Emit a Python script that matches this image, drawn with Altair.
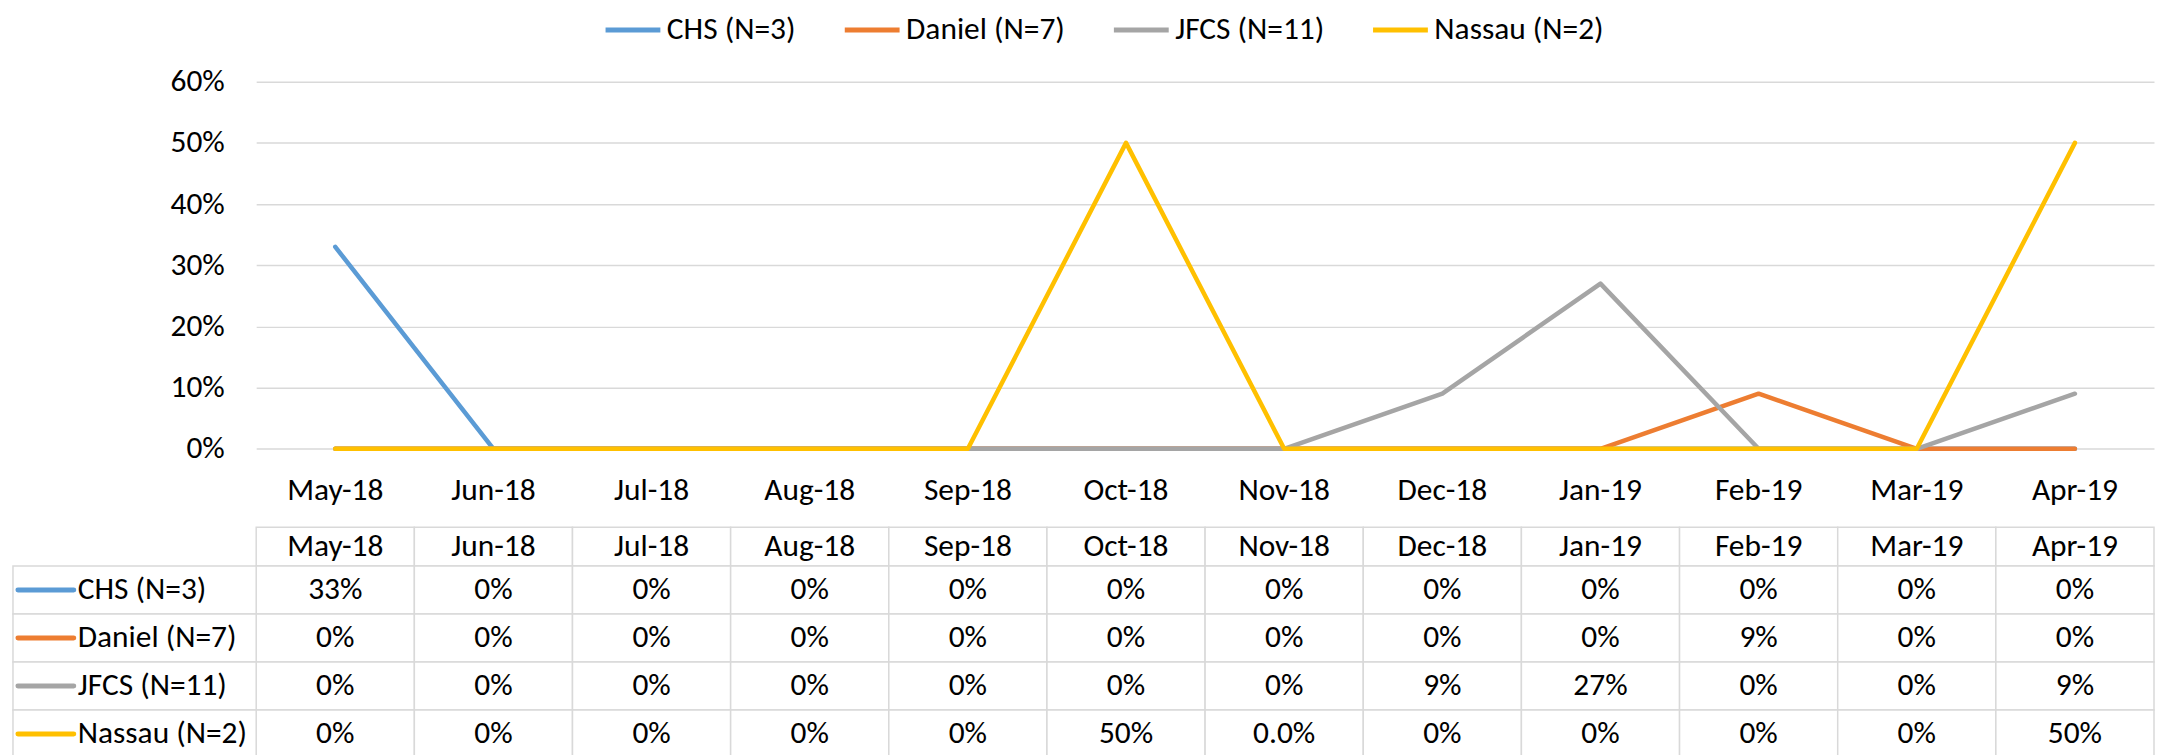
import altair as alt
import pandas as pd

# ---------------- data ----------------
months = ["May-18", "Jun-18", "Jul-18", "Aug-18", "Sep-18", "Oct-18",
          "Nov-18", "Dec-18", "Jan-19", "Feb-19", "Mar-19", "Apr-19"]
series = ["CHS (N=3)", "Daniel (N=7)", "JFCS (N=11)", "Nassau (N=2)"]
colors = ["#5B9BD5", "#ED7D31", "#A5A5A5", "#FFC000"]

chs    = [0.33, 0, 0, 0, 0, 0,   0, 0,    0,    0,    0, 0]
daniel = [0,    0, 0, 0, 0, 0,   0, 0,    0,    0.09, 0, 0]
jfcs   = [0,    0, 0, 0, 0, 0,   0, 0.09, 0.27, 0,    0, 0.09]
nassau = [0,    0, 0, 0, 0, 0.5, 0, 0,    0,    0,    0, 0.5]

y_ticks = [0, 0.1, 0.2, 0.3, 0.4, 0.5, 0.6]
# one cell of the data table is printed with a decimal in the original
label_overrides = {("Nassau (N=2)", "Nov-18"): "0.0%"}

values = {series[0]: chs, series[1]: daniel, series[2]: jfcs, series[3]: nassau}

rows = []
for s in series:
    for i, m in enumerate(months):
        v = values[s][i]
        lab = label_overrides.get((s, m), f"{round(v * 100)}%")
        rows.append({"series": s, "month": m, "idx": i, "value": v, "label": lab})
df = pd.DataFrame(rows)
df_header = pd.DataFrame({"month": months, "row": ["header"] * len(months)})
df_rowlab = pd.DataFrame({"series": series, "hex": colors})

# ---------------- style ----------------
FONT = "Calibri, Carlito, Lato, sans-serif"
FS = 31.5
GRID = "#d9d9d9"
W, H = 1904, 368.3
HEADER_RANGE = [447, 486]
ROW_RANGE = [486, 678.4]


def x_enc(center=True):
    kw = dict(
        sort=months,
        scale=alt.Scale(type="band", domain=months, paddingInner=0, paddingOuter=0),
        axis=alt.Axis(title=None, domain=False, ticks=False, labelFontSize=FS,
                      labelFont=FONT, labelColor="black", labelPadding=42,
                      labelBaseline="middle", labelAngle=0),
    )
    if center:
        kw["bandPosition"] = 0.5
    return alt.X("month:N", **kw)


def y_band(field, domain, rng, center=True):
    kw = dict(scale=alt.Scale(type="band", domain=domain, range=rng,
                              paddingInner=0, paddingOuter=0), axis=None)
    if center:
        kw["bandPosition"] = 0.5
    return alt.Y(field, **kw)


lines = alt.Chart(df).mark_line(strokeWidth=4.5, strokeCap="round", strokeJoin="round").encode(
    x=x_enc(),
    y=alt.Y("value:Q",
            scale=alt.Scale(domain=[0, 0.6], nice=False, zero=True),
            axis=alt.Axis(values=y_ticks, format=".0%", title=None, domain=False,
                          ticks=False, labelPadding=32, labelFontSize=FS, labelFont=FONT,
                          labelColor="black", grid=True, gridColor=GRID, gridWidth=1.5)),
    color=alt.Color("series:N", sort=series,
                    scale=alt.Scale(domain=series, range=colors),
                    legend=alt.Legend(orient="none", legendX=348, legendY=-82,
                                      direction="horizontal", title=None,
                                      labelFontSize=FS, labelFont=FONT, labelColor="black",
                                      labelLimit=400,
                                      symbolType="stroke", symbolStrokeWidth=5,
                                      symbolSize=3025, columnPadding=38, labelOffset=4)),
    order=alt.Order("idx:Q"),
)

header_cells = alt.Chart(df_header).mark_rect(fill="white", stroke=GRID, strokeWidth=1.5).encode(
    x=x_enc(center=False),
    y=y_band("row:N", ["header"], HEADER_RANGE, center=False),
)
header_text = alt.Chart(df_header).mark_text(fontSize=FS, font=FONT, color="black",
                                             baseline="middle").encode(
    x=x_enc(),
    y=y_band("row:N", ["header"], HEADER_RANGE),
    text="month:N",
)

cells = alt.Chart(df).mark_rect(fill="white", stroke=GRID, strokeWidth=1.5).encode(
    x=x_enc(center=False),
    y=y_band("series:N", series, ROW_RANGE, center=False),
)
cell_text = alt.Chart(df).mark_text(fontSize=FS, font=FONT, color="black",
                                    baseline="middle").encode(
    x=x_enc(),
    y=y_band("series:N", series, ROW_RANGE),
    text="label:N",
)

label_cells = alt.Chart(df_rowlab).mark_rect(fill="white", stroke=GRID, strokeWidth=1.5).encode(
    x=alt.value(-244), x2=alt.value(0),
    y=y_band("series:N", series, ROW_RANGE, center=False),
)
swatches = alt.Chart(df_rowlab).mark_rule(strokeWidth=5, strokeCap="round").encode(
    x=alt.value(-239), x2=alt.value(-183),
    y=y_band("series:N", series, ROW_RANGE),
    stroke=alt.Stroke("hex:N", scale=None),
)
row_text = alt.Chart(df_rowlab).mark_text(fontSize=FS, font=FONT, color="black",
                                          align="left", baseline="middle").encode(
    x=alt.value(-179),
    y=y_band("series:N", series, ROW_RANGE),
    text="series:N",
)

chart = alt.layer(
    header_cells, header_text, cells, cell_text, label_cells, swatches, row_text, lines
).resolve_scale(y="independent").properties(
    width=W, height=H,
    padding={"left": 249, "top": 72.7, "right": 1, "bottom": 306},
    autosize=alt.AutoSizeParams(type="none"),
).configure(font=FONT).configure_view(stroke=None)

chart.save("out.html", embed_options={"renderer": "svg", "actions": False})
